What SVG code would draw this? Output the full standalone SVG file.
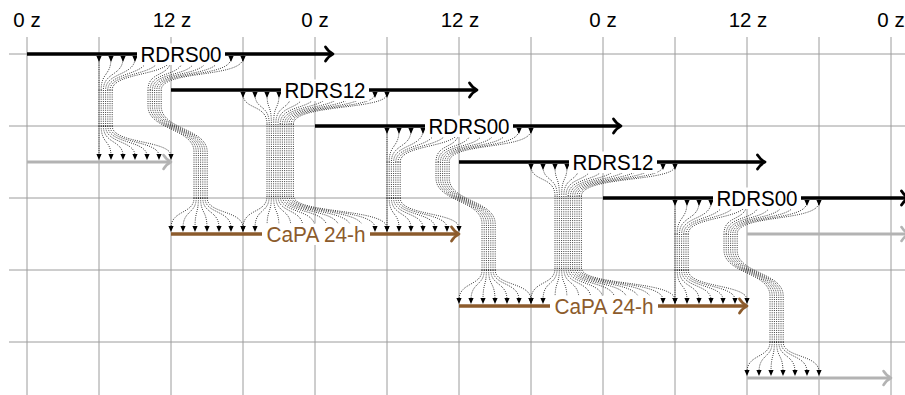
<svg xmlns="http://www.w3.org/2000/svg" width="905" height="395" viewBox="0 0 905 395">
<style>
.grid{stroke:#9c9c9c;stroke-width:1;fill:none}
.dot{fill:none;stroke:#000;stroke-width:.85;stroke-dasharray:.9 1.3}
.tip{fill:#000;stroke:none}
.k{stroke:#000;stroke-width:3.5;fill:none}
.g{stroke:#b3b3b3;stroke-width:3;fill:none}
.b{stroke:#8c5b2c;stroke-width:3.5;fill:none}
.ax{font-family:"Liberation Sans",Arial,Helvetica,sans-serif;font-size:20.5px;text-anchor:middle;fill:#000}
.lbl{font-family:"Liberation Sans",Arial,Helvetica,sans-serif;font-size:21.5px;text-anchor:middle;fill:#000}
.lblb{font-family:"Liberation Sans",Arial,Helvetica,sans-serif;font-size:21.5px;text-anchor:middle;fill:#8c5b2c}
.box{fill:#fff;stroke:none}
</style>
<defs>
<marker id="hk" markerUnits="userSpaceOnUse" orient="auto" markerWidth="20" markerHeight="20" refX="0" refY="0" overflow="visible"><path d="M-5.5,-7C-3,-3.2 0,-0.9 2,0C0,0.9 -3,3.2 -5.5,7" fill="none" stroke="#000" stroke-width="2.8" stroke-linecap="round" stroke-linejoin="round"/></marker>
<marker id="hg" markerUnits="userSpaceOnUse" orient="auto" markerWidth="20" markerHeight="20" refX="0" refY="0" overflow="visible"><path d="M-5.5,-7C-3,-3.2 0,-0.9 2,0C0,0.9 -3,3.2 -5.5,7" fill="none" stroke="#b3b3b3" stroke-width="2.6" stroke-linecap="round" stroke-linejoin="round"/></marker>
<marker id="hb" markerUnits="userSpaceOnUse" orient="auto" markerWidth="20" markerHeight="20" refX="0" refY="0" overflow="visible"><path d="M-5.5,-7C-3,-3.2 0,-0.9 2,0C0,0.9 -3,3.2 -5.5,7" fill="none" stroke="#8c5b2c" stroke-width="2.8" stroke-linecap="round" stroke-linejoin="round"/></marker>
<g id="fanA">
<path class="dot" d="M99,58C99,76 99,72 99,90M99,90V126M99,126C99,144 99,140 99,156
M111,58C111,76 101.2,72 101.2,90M101.2,90V126M101.2,126C101.2,144 111,140 111,156
M123,58C123,76 103.4,72 103.4,90M103.4,90V126M103.4,126C103.4,144 123,140 123,156
M135,58C135,76 105.6,72 105.6,90M105.6,90V126M105.6,126C105.6,144 135,140 135,156
M147,58C147,76 107.8,72 107.8,90M107.8,90V126M107.8,126C107.8,144 147,140 147,156
M159,58C159,76 110,72 110,90M110,90V126M110,126C110,144 159,140 159,156
M171,58C171,76 112.2,72 112.2,90M112.2,90V126M112.2,126C112.2,144 171,140 171,156"/>
<path class="tip" d="M96.4,56h5.2l-2.6,6zM108.4,56h5.2l-2.6,6zM120.4,56h5.2l-2.6,6zM132.4,56h5.2l-2.6,6zM144.4,56h5.2l-2.6,6zM156.4,56h5.2l-2.6,6zM168.4,56h5.2l-2.6,6z
M96.4,154h5.2l-2.6,6zM108.4,154h5.2l-2.6,6zM120.4,154h5.2l-2.6,6zM132.4,154h5.2l-2.6,6zM144.4,154h5.2l-2.6,6zM156.4,154h5.2l-2.6,6zM168.4,154h5.2l-2.6,6z"/>
</g>
<g id="fanB">
<path class="dot" d="M171,58C171,78 148,70 148,90M148,90V106C148,130 194,128 194,152V198M194,198C194,214 171,210 171,228
M183,58C183,78 150.2,70 150.2,90M150.2,90V106C150.2,130 196.2,128 196.2,152V198M196.2,198C196.2,214 183,210 183,228
M195,58C195,78 152.4,70 152.4,90M152.4,90V106C152.4,130 198.4,128 198.4,152V198M198.4,198C198.4,214 195,210 195,228
M207,58C207,78 154.6,70 154.6,90M154.6,90V106C154.6,130 200.6,128 200.6,152V198M200.6,198C200.6,214 207,210 207,228
M219,58C219,78 156.8,70 156.8,90M156.8,90V106C156.8,130 202.8,128 202.8,152V198M202.8,198C202.8,214 219,210 219,228
M231,58C231,78 159,70 159,90M159,90V106C159,130 205,128 205,152V198M205,198C205,214 231,210 231,228
M243,58C243,78 161.2,70 161.2,90M161.2,90V106C161.2,130 207.2,128 207.2,152V198M207.2,198C207.2,214 243,210 243,228"/>
<path class="tip" d="M168.4,56h5.2l-2.6,6zM180.4,56h5.2l-2.6,6zM192.4,56h5.2l-2.6,6zM204.4,56h5.2l-2.6,6zM216.4,56h5.2l-2.6,6zM228.4,56h5.2l-2.6,6zM240.4,56h5.2l-2.6,6z
M168.4,226h5.2l-2.6,6zM180.4,226h5.2l-2.6,6zM192.4,226h5.2l-2.6,6zM204.4,226h5.2l-2.6,6zM216.4,226h5.2l-2.6,6zM228.4,226h5.2l-2.6,6zM240.4,226h5.2l-2.6,6z"/>
</g>
<g id="fanC">
<path class="dot" d="M243,94C243,110 267,104 267,124M267,124V196M267,196C267,214 243,208 243,228
M255,94C255,110 269.2,104 269.2,124M269.2,124V196M269.2,196C269.2,214 255,208 255,228
M267,94C267,110 271.4,104 271.4,124M271.4,124V196M271.4,196C271.4,214 267,208 267,228
M279,94C279,110 273.6,104 273.6,124M273.6,124V196M273.6,196C273.6,214 279,208 279,228
M291,94C291,110 275.8,104 275.8,124M275.8,124V196M275.8,196C275.8,214 291,208 291,228
M303,94C303,110 278,104 278,124M278,124V196M278,196C278,214 303,208 303,228
M315,94C315,110 280.2,104 280.2,124M280.2,124V196M280.2,196C280.2,214 315,208 315,228
M327,94C327,110 282.4,104 282.4,124M282.4,124V196M282.4,196C282.4,214 327,208 327,228
M339,94C339,110 284.6,104 284.6,124M284.6,124V196M284.6,196C284.6,214 339,208 339,228
M351,94C351,110 286.8,104 286.8,124M286.8,124V196M286.8,196C286.8,214 351,208 351,228
M363,94C363,110 289,104 289,124M289,124V196M289,196C289,214 363,208 363,228
M375,94C375,110 291.2,104 291.2,124M291.2,124V196M291.2,196C291.2,214 375,208 375,228
M387,94C387,110 293.4,104 293.4,124M293.4,124V196M293.4,196C293.4,214 387,208 387,228"/>
<path class="tip" d="M240.4,92h5.2l-2.6,6zM252.4,92h5.2l-2.6,6zM264.4,92h5.2l-2.6,6zM276.4,92h5.2l-2.6,6zM288.4,92h5.2l-2.6,6zM300.4,92h5.2l-2.6,6zM312.4,92h5.2l-2.6,6zM324.4,92h5.2l-2.6,6zM336.4,92h5.2l-2.6,6zM348.4,92h5.2l-2.6,6zM360.4,92h5.2l-2.6,6zM372.4,92h5.2l-2.6,6zM384.4,92h5.2l-2.6,6z
M240.4,226h5.2l-2.6,6zM252.4,226h5.2l-2.6,6zM264.4,226h5.2l-2.6,6zM276.4,226h5.2l-2.6,6zM288.4,226h5.2l-2.6,6zM300.4,226h5.2l-2.6,6zM312.4,226h5.2l-2.6,6zM324.4,226h5.2l-2.6,6zM336.4,226h5.2l-2.6,6zM348.4,226h5.2l-2.6,6zM360.4,226h5.2l-2.6,6zM372.4,226h5.2l-2.6,6zM384.4,226h5.2l-2.6,6z"/>
</g>
</defs>
<rect width="905" height="395" fill="#fff"/>
<g id="grid" class="grid">
<path d="M27,37V395M99,37V395M171,37V395M243,37V395M315,37V395M387,37V395M459,37V395M531,37V395M603,37V395M675,37V395M747,37V395M819,37V395M891,37V395"/>
<path d="M9,54H905M9,126H905M9,198H905M9,270H905M9,342H905"/>
</g>
<g id="axis-labels" class="ax">
<text x="27" y="27">0 z</text>
<text x="172" y="27">12 z</text>
<text x="315" y="27">0 z</text>
<text x="460" y="27">12 z</text>
<text x="603" y="27">0 z</text>
<text x="748" y="27">12 z</text>
<text x="891" y="27">0 z</text>
</g>
<g id="connectors">
<use href="#fanA"/>
<use href="#fanB"/>
<use href="#fanC"/>
<use href="#fanA" transform="translate(288,72)"/>
<use href="#fanB" transform="translate(288,72)"/>
<use href="#fanC" transform="translate(288,72)"/>
<use href="#fanA" transform="translate(576,144)"/>
<use href="#fanB" transform="translate(576,144)"/>
</g>
<g id="gray-1"><path class="g" d="M27,162H169" marker-end="url(#hg)"/></g>
<g id="gray-2"><path class="g" d="M747,234H907" marker-end="url(#hg)"/></g>
<g id="gray-3"><path class="g" d="M747,378H889" marker-end="url(#hg)"/></g>
<g id="rdrs00-1"><path class="k" d="M27,54H331" marker-end="url(#hk)"/><rect class="box" x="137" y="43.5" width="88" height="21.5"/><text class="lbl" x="181" y="61.8" textLength="81" lengthAdjust="spacingAndGlyphs">RDRS00</text></g>
<g id="rdrs12-1"><path class="k" d="M171,90H475" marker-end="url(#hk)"/><rect class="box" x="281" y="79.5" width="88" height="21.5"/><text class="lbl" x="325" y="97.8" textLength="81" lengthAdjust="spacingAndGlyphs">RDRS12</text></g>
<g id="rdrs00-2"><path class="k" d="M315,126H619" marker-end="url(#hk)"/><rect class="box" x="425" y="115.5" width="88" height="21.5"/><text class="lbl" x="469" y="133.8" textLength="81" lengthAdjust="spacingAndGlyphs">RDRS00</text></g>
<g id="rdrs12-2"><path class="k" d="M459,162H763" marker-end="url(#hk)"/><rect class="box" x="569" y="151.5" width="88" height="21.5"/><text class="lbl" x="613" y="169.8" textLength="81" lengthAdjust="spacingAndGlyphs">RDRS12</text></g>
<g id="rdrs00-3"><path class="k" d="M603,198H907" marker-end="url(#hk)"/><rect class="box" x="713" y="187.5" width="88" height="21.5"/><text class="lbl" x="757" y="205.8" textLength="81" lengthAdjust="spacingAndGlyphs">RDRS00</text></g>
<g id="capa-1"><path class="b" d="M171,234H457" marker-end="url(#hb)"/><rect class="box" x="262" y="223.5" width="108" height="21.5"/><text class="lblb" x="316" y="241.8" textLength="99" lengthAdjust="spacingAndGlyphs">CaPA 24-h</text></g>
<g id="capa-2"><path class="b" d="M459,306H745" marker-end="url(#hb)"/><rect class="box" x="550" y="295.5" width="108" height="21.5"/><text class="lblb" x="604" y="313.8" textLength="99" lengthAdjust="spacingAndGlyphs">CaPA 24-h</text></g>
</svg>
